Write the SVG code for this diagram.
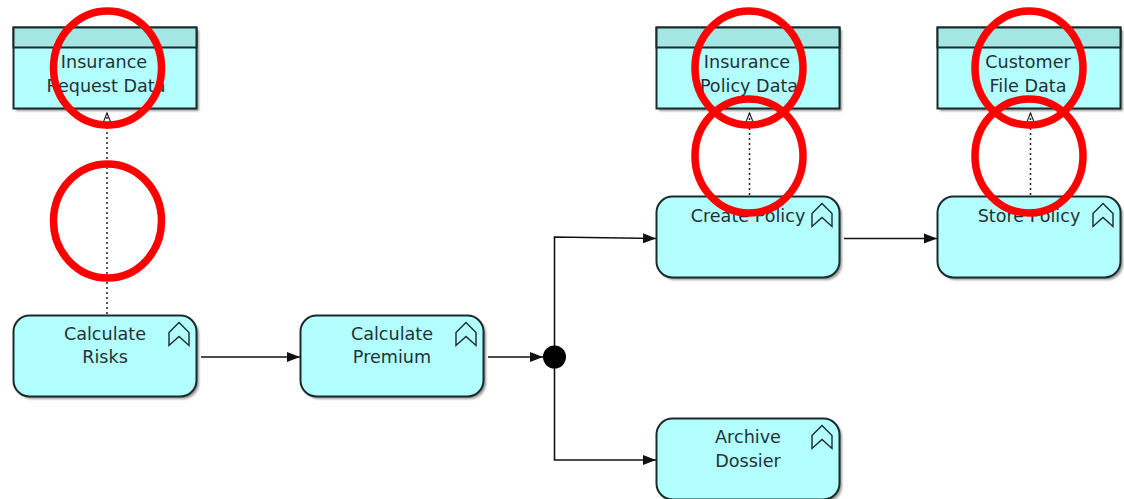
<svg xmlns="http://www.w3.org/2000/svg" width="1124" height="499" viewBox="0 0 1124 499">
<style>
text{font-family:"DejaVu Sans","Liberation Sans",sans-serif;font-size:17.6px;fill:#1f3236;text-anchor:middle}
.sh{fill:#999;stroke:none;filter:url(#soft)}
.body{fill:#b3ffff;stroke:#1b2b2b;stroke-width:2}
.hd{fill:#a3e6e3;stroke:#1b2b2b;stroke-width:2}
.ic{fill:none;stroke:#1c2a2a;stroke-width:1.4}
.ln{fill:none;stroke:#111;stroke-width:1.6}
.dot{fill:none;stroke:#222;stroke-width:1.5;stroke-dasharray:2 3}
.ring{fill:none;stroke:#fe0000;stroke-width:7.5}
</style>
<defs>
<filter id="soft" x="-5%" y="-5%" width="110%" height="110%"><feGaussianBlur stdDeviation="0.8"/></filter>
<marker id="solid" markerUnits="userSpaceOnUse" markerWidth="14" markerHeight="12" refX="13" refY="6" orient="auto"><path d="M0 1 L13 6 L0 11 Z" fill="#111"/></marker>
<marker id="open" markerUnits="userSpaceOnUse" markerWidth="12" markerHeight="12" refX="10" refY="5" orient="auto"><path d="M0 1 L10 5 L0 9" fill="none" stroke="#222" stroke-width="1.2"/></marker>
<path id="chev" class="ic" d="M0 10 L10 0 L20 10 L20 23 L10 14 L0 23 Z"/>
</defs>
<g id="connectors">
<path class="dot" d="M107 314 V113" marker-end="url(#open)"/>
<path class="dot" d="M749.500 195 V113" marker-end="url(#open)"/>
<path class="dot" d="M1030.500 195 V113" marker-end="url(#open)"/>
<path class="ln" d="M201 357 H300" marker-end="url(#solid)"/>
<path class="ln" d="M488 357 H543" marker-end="url(#solid)"/>
<path class="ln" d="M554.500 357 V237 L656 238.500" marker-end="url(#solid)"/>
<path class="ln" d="M554.500 357 V460 H656" marker-end="url(#solid)"/>
<path class="ln" d="M844 238.500 H937" marker-end="url(#solid)"/>
</g>
<g id="junction"><circle cx="554.500" cy="357" r="11.500" fill="#000"/></g>
<g id="data-insurance-request">
<rect class="sh" x="16" y="30" width="183" height="81"/>
<rect class="body" x="13.500" y="27.500" width="183" height="81"/>
<rect class="hd" x="13.500" y="27.500" width="183" height="20"/>
<text x="104" y="68">Insurance</text><text x="106" y="92">Request Data</text>
</g>
<g id="data-insurance-policy">
<rect class="sh" x="659" y="30" width="183" height="81"/>
<rect class="body" x="656.500" y="27.500" width="183" height="81"/>
<rect class="hd" x="656.500" y="27.500" width="183" height="20"/>
<text x="747" y="68">Insurance</text><text x="749" y="92">Policy Data</text>
</g>
<g id="data-customer-file">
<rect class="sh" x="940" y="30" width="183" height="81"/>
<rect class="body" x="937.500" y="27.500" width="183" height="81"/>
<rect class="hd" x="937.500" y="27.500" width="183" height="20"/>
<text x="1028" y="68">Customer</text><text x="1028" y="92">File Data</text>
</g>
<g id="calculate-risks">
<rect class="sh" x="16" y="318" width="183" height="81" rx="16"/>
<rect class="body" x="13.500" y="315.500" width="183" height="81" rx="16"/>
<use href="#chev" x="169" y="322.500"/>
<text x="105" y="340">Calculate</text><text x="105" y="363">Risks</text>
</g>
<g id="calculate-premium">
<rect class="sh" x="303" y="318" width="183" height="81" rx="16"/>
<rect class="body" x="300.500" y="315.500" width="183" height="81" rx="16"/>
<use href="#chev" x="456" y="322.500"/>
<text x="392" y="340">Calculate</text><text x="392" y="363">Premium</text>
</g>
<g id="create-policy">
<rect class="sh" x="659" y="199" width="183" height="81" rx="16"/>
<rect class="body" x="656.500" y="196.500" width="183" height="81" rx="16"/>
<use href="#chev" x="812" y="203.500"/>
<text x="748" y="222">Create Policy</text>
</g>
<g id="store-policy">
<rect class="sh" x="940" y="199" width="183" height="81" rx="16"/>
<rect class="body" x="937.500" y="196.500" width="183" height="81" rx="16"/>
<use href="#chev" x="1093" y="203.500"/>
<text x="1029" y="222">Store Policy</text>
</g>
<g id="archive-dossier">
<rect class="sh" x="659" y="421" width="183" height="81" rx="16"/>
<rect class="body" x="656.500" y="418.500" width="183" height="81" rx="16"/>
<use href="#chev" x="812" y="425.500"/>
<text x="748" y="443">Archive</text><text x="748" y="467">Dossier</text>
</g>
<g id="highlights">
<ellipse class="ring" cx="107.500" cy="68" rx="54" ry="57"/>
<ellipse class="ring" cx="107.500" cy="221" rx="54" ry="57"/>
<ellipse class="ring" cx="749" cy="68" rx="54" ry="57"/>
<ellipse class="ring" cx="749" cy="156" rx="54" ry="57"/>
<ellipse class="ring" cx="1029" cy="68" rx="54" ry="57"/>
<ellipse class="ring" cx="1029" cy="156" rx="54" ry="57"/>
</g>
</svg>
